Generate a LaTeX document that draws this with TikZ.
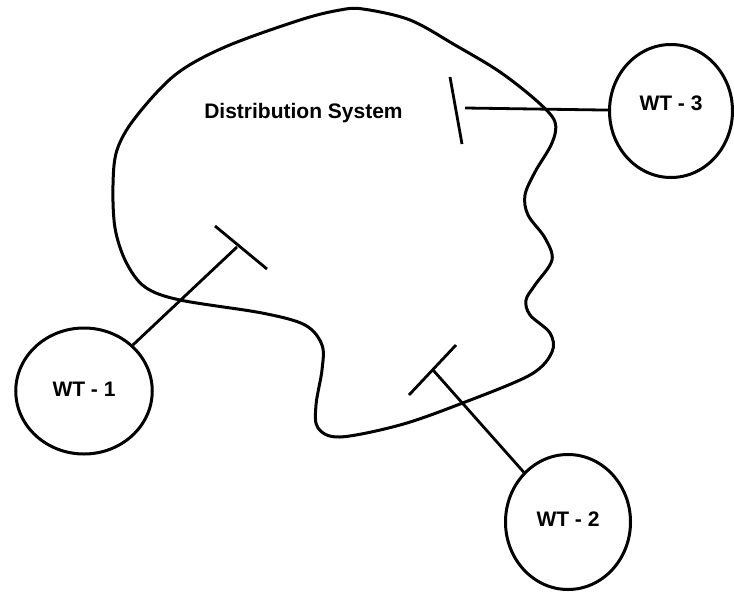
\documentclass[tikz,border=0pt]{standalone}
\usepackage{fontspec}
\setmainfont{Liberation Sans}
\usetikzlibrary{shapes.geometric}
\begin{document}
\begin{tikzpicture}[x=1pt,y=-1pt,line width=3pt,
  txt/.style={font=\fontsize{21}{25}\selectfont\bfseries, inner sep=0pt},
  wt/.style={draw, ellipse, inner sep=0pt},
  link/.style={line width=2.8pt}]
\useasboundingbox (0,0) rectangle (734,592);
% distribution system outline
\draw plot[smooth cycle, tension=0.55] coordinates {
 (363,9) (410,20) (455,45) (500,72) (538,102) (555,122) (552,143) (535,172)
 (525,195) (528,215) (545,238) (552,260) (535,285) (526,300) (530,315)
 (550,333) (552,352) (530,375) (460,404) (400,425) (340,437) (318,428)
 (316,405) (322,370) (322,345) (305,325) (262,313) (180,300) (145,287)
 (126,262) (115,228) (113,185) (117,150) (135,118) (175,75) (225,47)
 (300,20) (340,10)};
\node[txt] (ds) at (303.5,113) {Distribution System};
% wireless terminals
\node[wt, minimum width=136.5pt, minimum height=126pt,
      label={[txt, yshift=2pt]center:WT - 1}] (wt1) at (84,391) {};
\node[wt, minimum width=125pt, minimum height=135pt,
      label={[txt, yshift=3pt]center:WT - 2}] (wt2) at (568,522) {};
\node[wt, minimum width=123pt, minimum height=133pt,
      label={[txt, yshift=8pt]center:WT - 3}] (wt3) at (671,111) {};
% junction points and crossbars
\coordinate (j1) at (237,247);
\coordinate (c1a) at (215,226);
\coordinate (c1b) at (267,269);
\coordinate (j2) at (433,370);
\coordinate (c2a) at (456,345);
\coordinate (c2b) at (409,395);
\coordinate (j3) at (465,108);
\coordinate (c3a) at (450,77);
\coordinate (c3b) at (462,144);
\draw[link] (wt1) -- (j1);
\draw[link] (c1a) -- (c1b);
\draw[link] (wt2) -- (j2);
\draw[link] (c2a) -- (c2b);
\draw[link] (wt3) -- (j3);
\draw[link] (c3a) -- (c3b);
\end{tikzpicture}
\end{document}
